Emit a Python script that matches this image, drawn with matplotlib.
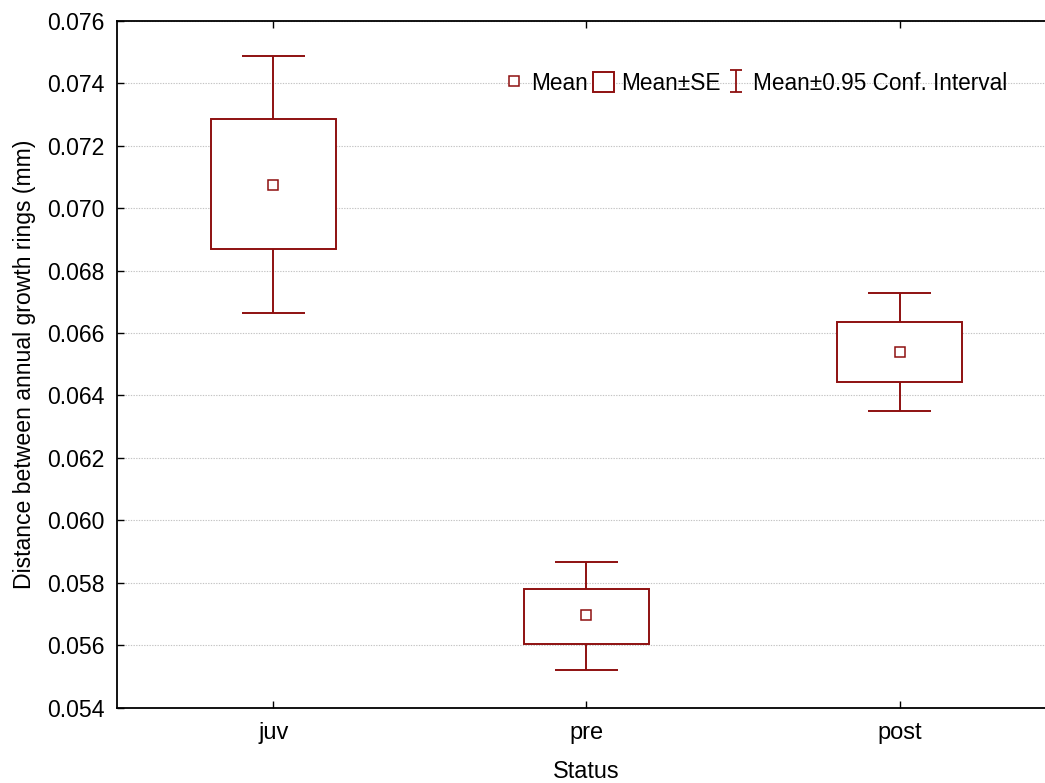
import matplotlib
matplotlib.use("Agg")
import matplotlib.pyplot as plt
from matplotlib.lines import Line2D
from matplotlib.patches import Rectangle
from matplotlib.path import Path
import numpy as np

plt.rcParams['font.family'] = ['Liberation Sans', 'DejaVu Sans']

categories = ['juv', 'pre', 'post']
means = [0.07074, 0.05697, 0.06540]
se_low = [0.06868, 0.05605, 0.06444]
se_high = [0.07285, 0.05781, 0.06636]
ci_low = [0.06665, 0.05521, 0.06351]
ci_high = [0.07486, 0.05868, 0.06729]
yticks = [0.054, 0.056, 0.058, 0.060, 0.062, 0.064, 0.066, 0.068, 0.070, 0.072, 0.074, 0.076]

color = '#8E1010'
lw = 1.4

fig = plt.figure(figsize=(10.45, 7.83), dpi=100)
ax = fig.add_axes([116.7 / 1045, 75.3 / 783, 939.5 / 1045, 687.0 / 783])

x = np.arange(len(categories))
se_low_a = np.array(se_low)
se_high_a = np.array(se_high)

# whiskers
ax.vlines(x, ci_low, se_low, color=color, lw=lw, zorder=2)
ax.vlines(x, se_high, ci_high, color=color, lw=lw, zorder=2)
ax.hlines(ci_low, x - 0.1, x + 0.1, color=color, lw=lw, zorder=2)
ax.hlines(ci_high, x - 0.1, x + 0.1, color=color, lw=lw, zorder=2)
# SE boxes
ax.bar(x, se_high_a - se_low_a, bottom=se_low_a, width=0.4, facecolor='white',
       edgecolor=color, linewidth=lw, zorder=3)
# means
ax.plot(x, means, ls='none', marker='s', ms=7, mfc='white', mec=color, mew=1.1, zorder=4)

ax.set_xlim(-0.5, 2.5)
ax.set_ylim(0.054, 0.076)
ax.set_xticks(x)
ax.set_xticklabels(categories)
ax.set_yticks(yticks)
ax.set_yticklabels([f'{v:.3f}' for v in yticks])

ax.yaxis.grid(True, color='#c4c4c4', linestyle=(0, (1.2, 1.2)), linewidth=0.8)
ax.set_axisbelow(True)

for s in ['left', 'bottom', 'top']:
    ax.spines[s].set_linewidth(1.3)
    ax.spines[s].set_color('black')
ax.spines['right'].set_visible(False)

ax.tick_params(axis='y', direction='in', length=5, width=1, labelsize=16.6, pad=9, left=True, right=False)
ax.tick_params(axis='x', direction='in', length=5, width=1, labelsize=17, pad=10, top=True, bottom=True)

ax.set_xlabel('Status', fontsize=16.8, labelpad=12)
ax.set_ylabel('Distance between annual growth rings (mm)', fontsize=16.6, labelpad=8)

# legend
ibeam = Path([(-0.5, 1), (0.5, 1), (0, 1), (0, -1), (-0.5, -1), (0.5, -1)],
             [Path.MOVETO, Path.LINETO, Path.MOVETO, Path.LINETO, Path.MOVETO, Path.LINETO])
h_mean = Line2D([], [], ls='none', marker='s', ms=7, mfc='white', mec=color, mew=1.1)
h_se = Rectangle((0, 0), 1, 1, facecolor='white', edgecolor=color, linewidth=lw)
h_ci = Line2D([], [], ls='none', marker=ibeam, ms=16, mfc='none', mec=color, mew=1.3)
leg = ax.legend([h_mean, h_se, h_ci], ['Mean', 'Mean±SE', 'Mean±0.95 Conf. Interval'],
                ncol=3, frameon=False, loc='center', bbox_to_anchor=(0.68, 0.909),
                fontsize=16.3, handlelength=0.9, handleheight=1.0, handletextpad=0.3,
                columnspacing=0.25, borderpad=0)

fig.savefig('out.png', dpi=100)
